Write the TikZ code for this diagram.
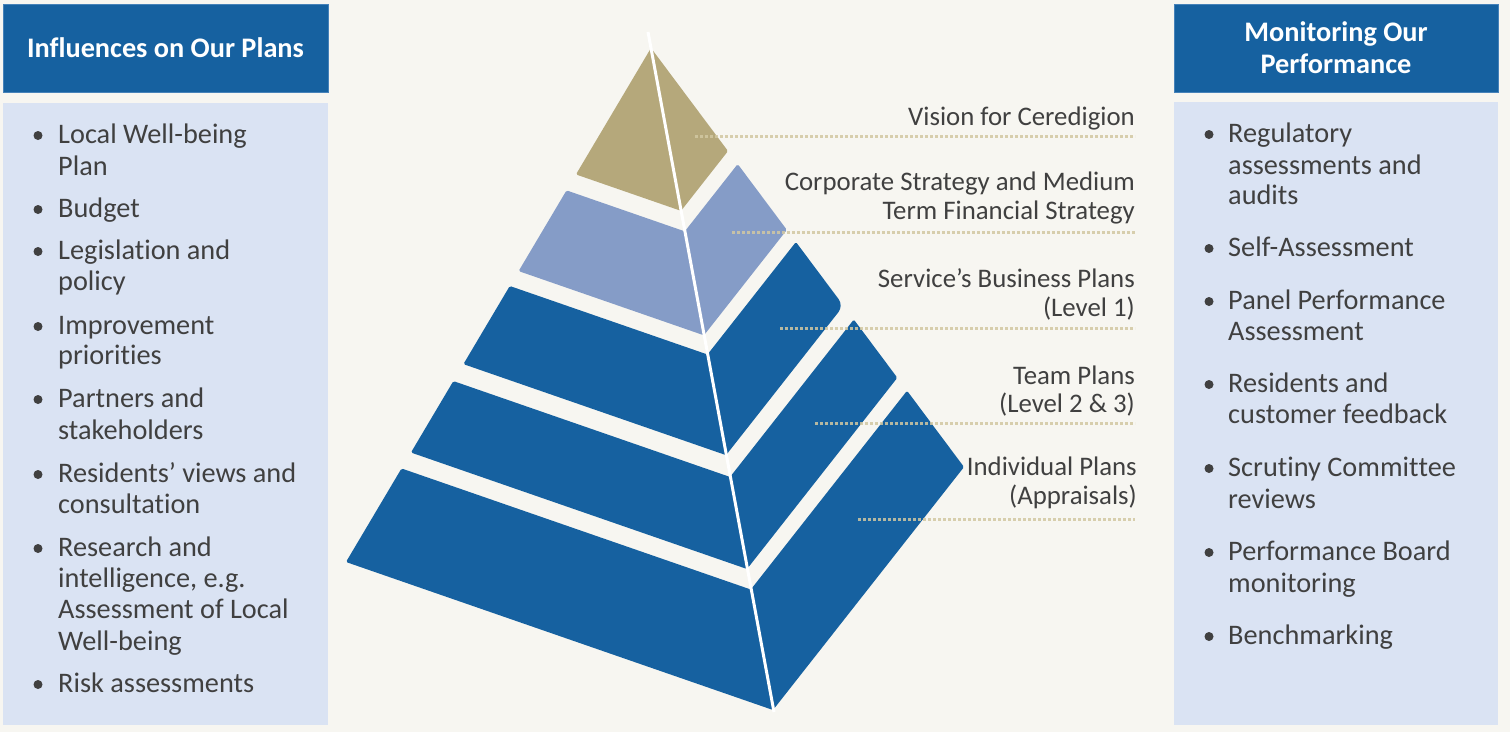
\documentclass[tikz,border=0pt]{standalone}
\usepackage{fontspec}
\setmainfont{Carlito}[RawFeature={-liga;-clig;-rlig;-calt;-dlig}]
\usetikzlibrary{calc}
\definecolor{bgc}{RGB}{247,246,241}
\definecolor{dblue}{RGB}{22,97,160}
\definecolor{panelc}{RGB}{218,227,243}
\definecolor{tanc}{RGB}{181,168,123}
\definecolor{lblue}{RGB}{133,156,199}
\definecolor{txtc}{RGB}{64,64,64}
\definecolor{dotc}{RGB}{210,200,162}
\tikzset{
  hdrbox/.style={fill=dblue, draw={rgb,255:red,70;green,130;blue,185}, line width=0.8pt, text=white,
    font=\fontsize{28.3}{32}\selectfont\bfseries, align=center, inner sep=0pt},
  panelbox/.style={fill=panelc, draw=none, anchor=north west, inner sep=0pt},
  listtxt/.style={text=txtc, font=\fontsize{28.3}{31.5}\selectfont, anchor=base west, inner sep=0pt},
  bul/.style={circle, fill=txtc, minimum size=9pt, inner sep=0pt},
  lbl/.style={text=txtc, font=\fontsize{26.8}{30}\selectfont, anchor=base east, inner sep=0pt},
  leader/.style={dotc, opacity=0.85, line width=3pt, dash pattern=on 3pt off 2pt},
  ridge/.style={white, line width=3pt},
}
\newcommand{\pyrband}[3]{%
  \fill[#3, rounded corners=1.5pt] ($(A)!#1!(L)$) -- ($(A)!#2!(L)$) -- ($(A)!#2!(B)$) -- ($(A)!#1!(B)$) -- cycle;
  \fill[#3, rounded corners=1.5pt] ($(A)!#1!(B)$) -- ($(A)!#2!(B)$) -- ($(A)!#2!(R)$) -- ($(A)!#1!(R)$) -- cycle;
}
\newcommand{\nk}{\kern0pt }
\begin{document}
\begin{tikzpicture}[x=1pt,y=-1pt]
\useasboundingbox (0,0) rectangle (1510,732);
\fill[bgc] (0,0) rectangle (1510,732);

% headers and panels
\node[hdrbox, minimum width=325pt, minimum height=88pt] (hL) at (165.5,48) {Influences on Our Plans};
\node[hdrbox, minimum width=324pt, minimum height=88pt] (hR) at (1336,48) {Monitoring Our\\Performance};
\node[panelbox, minimum width=325pt, minimum height=622pt] (pL) at (3,103) {};
\node[panelbox, minimum width=324pt, minimum height=623pt] (pR) at (1174,102) {};

% left list
\node[bul] (bl1) at (38,135.5) {};
\node[listtxt] (l1a) at (58,143) {Local Well-being};
\node[listtxt] (l1b) at (58,175) {Plan};
\node[bul] (bl2) at (38,209.5) {};
\node[listtxt] (l2a) at (58,217) {Budget};
\node[bul] (bl3) at (38,251.5) {};
\node[listtxt] (l3a) at (58,259) {Legislat\nk ion and};
\node[listtxt] (l3b) at (58,290.5) {policy};
\node[bul] (bl4) at (38,326.5) {};
\node[listtxt] (l4a) at (58,334) {Improvement};
\node[listtxt] (l4b) at (58,364.5) {priorit\nk ies};
\node[bul] (bl5) at (38,399.5) {};
\node[listtxt] (l5a) at (58,407) {Partners and};
\node[listtxt] (l5b) at (58,439) {stakeholders};
\node[bul] (bl6) at (38,474.5) {};
\node[listtxt] (l6a) at (58,482) {Residents’ views and};
\node[listtxt] (l6b) at (58,513) {consultat\nk ion};
\node[bul] (bl7) at (38,548.5) {};
\node[listtxt] (l7a) at (58,556) {Research and};
\node[listtxt] (l7b) at (58,587) {intelligence, e.g.};
\node[listtxt] (l7c) at (58,618) {Assessment of Local};
\node[listtxt] (l7d) at (58,650) {Well-being};
\node[bul] (bl8) at (38,684.5) {};
\node[listtxt] (l8a) at (58,692) {Risk assessments};

% right list
\node[bul] (br1) at (1209,134.5) {};
\node[listtxt] (r1a) at (1228,142) {Regulatory};
\node[listtxt] (r1b) at (1228,174) {assessments and};
\node[listtxt] (r1c) at (1228,204) {audits};
\node[bul] (br2) at (1209,248.5) {};
\node[listtxt] (r2a) at (1228,256) {Self-Assessment};
\node[bul] (br3) at (1209,301.5) {};
\node[listtxt] (r3a) at (1228,309) {Panel Performance};
\node[listtxt] (r3b) at (1228,340) {Assessment};
\node[bul] (br4) at (1209,384.5) {};
\node[listtxt] (r4a) at (1228,392) {Residents and};
\node[listtxt] (r4b) at (1228,423) {customer feedback};
\node[bul] (br5) at (1209,468.5) {};
\node[listtxt] (r5a) at (1228,476) {Scrutiny Commit\nk tee};
\node[listtxt] (r5b) at (1228,508) {reviews};
\node[bul] (br6) at (1209,552.5) {};
\node[listtxt] (r6a) at (1228,560) {Performance Board};
\node[listtxt] (r6b) at (1228,592) {monitoring};
\node[bul] (br7) at (1209,636.5) {};
\node[listtxt] (r7a) at (1228,644) {Benchmarking};

% pyramid
\coordinate (A) at (651,48);
\coordinate (L) at (346,562);
\coordinate (B) at (773,710);
\coordinate (R) at (964,467);
\coordinate (Top) at (648,32);
\coordinate (Bot) at (774,712);
\pyrband{0}{0.246}{tanc}
\pyrband{0.277}{0.434}{lblue}
\fill[dblue, rounded corners=1.5pt] ($(A)!0.463!(L)$) -- ($(A)!0.615!(L)$) -- ($(A)!0.615!(B)$) -- ($(A)!0.463!(B)$) -- cycle;
\fill[dblue] ($(A)!0.463!(B)$) -- ($(A)!0.615!(B)$) [rounded corners=8pt] -- ($(A)!0.615!(R)$) [rounded corners=1.5pt] -- ($(A)!0.463!(R)$) -- cycle;
\pyrband{0.648}{0.787}{dblue}
\pyrband{0.818}{1}{dblue}
\draw[ridge] (Top) -- (Bot);

% leaders
\coordinate (e1) at (1135,136.5);
\coordinate (e2) at (1135,232);
\coordinate (e3) at (1135,328);
\coordinate (e4) at (1135,423);
\coordinate (e5) at (1135,519);
\coordinate (s1) at (695,136.5);
\coordinate (s2) at (732,232);
\coordinate (s3) at (780,328);
\coordinate (s4) at (815,423);
\coordinate (s5) at (858,519);
\draw[leader] (s1) -- (e1);
\draw[leader] (s2) -- (e2);
\draw[leader] (s3) -- (e3);
\draw[leader] (s4) -- (e4);
\draw[leader] (s5) -- (e5);

% labels
\node[lbl] (t1) at (1135,125) {Vision for Ceredigion};
\node[lbl] (t2a) at (1135,190) {Corporate Strategy and Medium};
\node[lbl] (t2b) at (1135,219.5) {Term Financial Strategy};
\node[lbl] (t3a) at (1135,287.5) {Service’s Business Plans};
\node[lbl] (t3b) at (1135,316.5) {(Level 1)};
\node[lbl] (t4a) at (1135,384) {Team Plans};
\node[lbl] (t4b) at (1135,412.5) {(Level 2 \& 3)};
\node[lbl] (t5a) at (1137,475.5) {Individual Plans};
\node[lbl] (t5b) at (1137,504) {(Appraisals)};
\end{tikzpicture}
\end{document}
